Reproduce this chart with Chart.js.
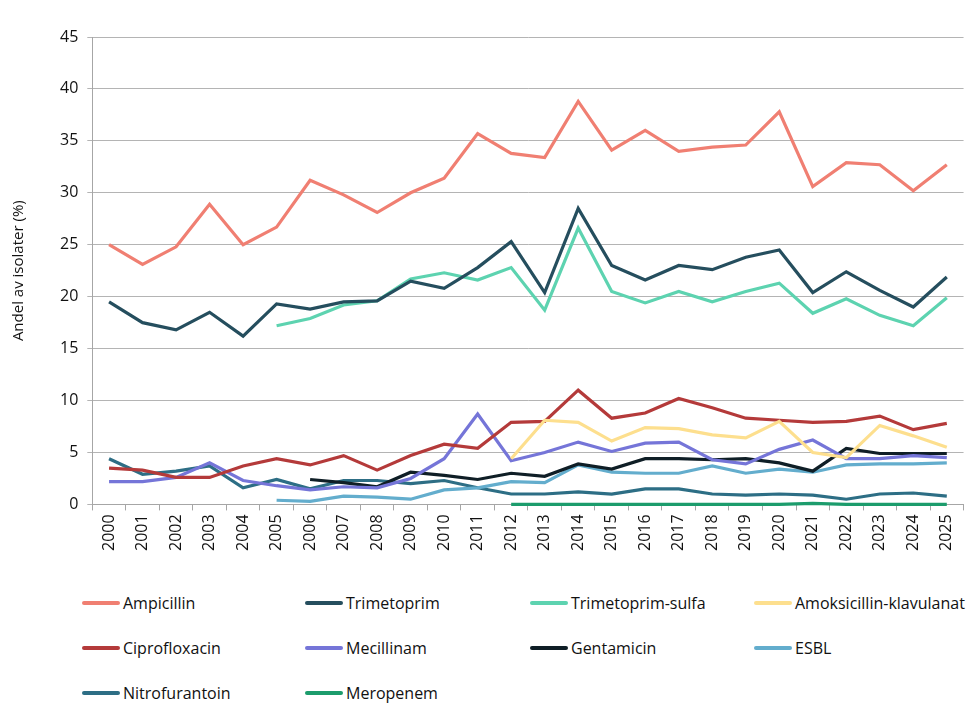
<!DOCTYPE html>
<html>
<head>
<meta charset="utf-8">
<script src="https://cdn.jsdelivr.net/npm/chart.js@4/dist/chart.umd.min.js"></script>
<style>
    html, body { margin: 0; padding: 0; background: #fff; }
    body { width: 970px; height: 724px; position: relative; overflow: hidden; font-family: 'Open Sans', 'Liberation Sans', sans-serif; }
    #chartBox { position: absolute; left: 0; top: 0; width: 970px; height: 555px; }
    #legend { position: absolute; left: 82px; top: 590px; width: 888px; display: grid; grid-template-columns: 223px 225px 224px 216px; row-gap: 19px; }
    .item { display: flex; align-items: center; height: 26px; font-size: 16px; color: #111; white-space: nowrap; }
    .swatch { width: 38px; height: 4px; margin-right: 3px; border-radius: 2px; }
</style>
</head>
<body>
<div id="chartBox"><canvas id="chart"></canvas></div>
<div id="legend"></div>
<script>
// Data
const years = ['2000','2001','2002','2003','2004','2005','2006','2007','2008','2009','2010','2011','2012',
    '2013','2014','2015','2016','2017','2018','2019','2020','2021','2022','2023','2024','2025'];

const ampicillin = [25.0, 23.1, 24.8, 28.9, 25.0, 26.7, 31.2, 29.8, 28.1, 30.0, 31.4, 35.7, 33.8,
    33.4, 38.8, 34.1, 36.0, 34.0, 34.4, 34.6, 37.8, 30.6, 32.9, 32.7, 30.2, 32.7];
const trimetoprim = [19.5, 17.5, 16.8, 18.5, 16.2, 19.3, 18.8, 19.5, 19.6, 21.5, 20.8, 22.8, 25.3,
    20.4, 28.5, 23.0, 21.6, 23.0, 22.6, 23.8, 24.5, 20.4, 22.4, 20.6, 19.0, 21.9];
const trimSulfa = [null, null, null, null, null, 17.2, 17.9, 19.2, 19.6, 21.7, 22.3, 21.6, 22.8,
    18.7, 26.6, 20.5, 19.4, 20.5, 19.5, 20.5, 21.3, 18.4, 19.8, 18.2, 17.2, 19.9];
const amoksKlav = [null, null, null, null, null, null, null, null, null, null, null, null, 4.4,
    8.1, 7.9, 6.1, 7.4, 7.3, 6.7, 6.4, 8.0, 5.0, 4.5, 7.6, 6.6, 5.5];
const ciprofloxacin = [3.5, 3.3, 2.6, 2.6, 3.7, 4.4, 3.8, 4.7, 3.3, 4.7, 5.8, 5.4, 7.9,
    8.0, 11.0, 8.3, 8.8, 10.2, 9.3, 8.3, 8.1, 7.9, 8.0, 8.5, 7.2, 7.8];
const mecillinam = [2.2, 2.2, 2.6, 4.0, 2.3, 1.8, 1.4, 1.7, 1.6, 2.5, 4.4, 8.7, 4.2,
    5.0, 6.0, 5.1, 5.9, 6.0, 4.3, 3.9, 5.3, 6.2, 4.4, 4.4, 4.7, 4.5];
const gentamicin = [null, null, null, null, null, null, 2.4, 2.1, 1.7, 3.1, 2.8, 2.4, 3.0,
    2.7, 3.9, 3.4, 4.4, 4.4, 4.3, 4.4, 4.0, 3.2, 5.4, 4.9, 4.9, 4.9];
const esbl = [null, null, null, null, null, 0.4, 0.3, 0.8, 0.7, 0.5, 1.4, 1.6, 2.2,
    2.1, 3.8, 3.1, 3.0, 3.0, 3.7, 3.0, 3.4, 3.1, 3.8, 3.9, 3.9, 4.0];
const nitrofurantoin = [4.4, 2.9, 3.2, 3.7, 1.6, 2.4, 1.5, 2.3, 2.3, 2.0, 2.3, 1.6, 1.0,
    1.0, 1.2, 1.0, 1.5, 1.5, 1.0, 0.9, 1.0, 0.9, 0.5, 1.0, 1.1, 0.8];
const meropenem = [null, null, null, null, null, null, null, null, null, null, null, null, 0.0,
    0.0, 0.0, 0.0, 0.0, 0.0, 0.0, 0.0, 0.0, 0.1, 0.0, 0.0, 0.0, 0.0];

const yTicks = [0, 5, 10, 15, 20, 25, 30, 35, 40, 45];

const series = [
    { label: 'Ampicillin', data: ampicillin, color: '#F07F72' },
    { label: 'Trimetoprim', data: trimetoprim, color: '#254E5E' },
    { label: 'Trimetoprim-sulfa', data: trimSulfa, color: '#5DD3B0' },
    { label: 'Amoksicillin-klavulanat', data: amoksKlav, color: '#FDDF8E' },
    { label: 'Ciprofloxacin', data: ciprofloxacin, color: '#B43A3A' },
    { label: 'Mecillinam', data: mecillinam, color: '#7575D8' },
    { label: 'Gentamicin', data: gentamicin, color: '#0F1E26' },
    { label: 'ESBL', data: esbl, color: '#63ADCD' },
    { label: 'Nitrofurantoin', data: nitrofurantoin, color: '#2D6E85' },
    { label: 'Meropenem', data: meropenem, color: '#1C9C6C' }
];

const fontFamily = "'Open Sans', 'Liberation Sans', sans-serif";

const chart = new Chart(document.getElementById('chart'), {
    type: 'line',
    data: {
        labels: years,
        datasets: series.map(s => ({
            label: s.label,
            data: s.data,
            borderColor: s.color,
            backgroundColor: s.color,
            borderWidth: 3.2,
            pointRadius: 0,
            tension: 0,
            spanGaps: false,
            clip: 6
        }))
    },
    options: {
        responsive: true,
        maintainAspectRatio: false,
        animation: false,
        layout: { padding: { left: 6, top: 37, right: 0, bottom: 0 } },
        plugins: {
            legend: { display: false },
            tooltip: { enabled: false }
        },
        scales: {
            x: {
                offset: true,
                grid: {
                    offset: true,
                    drawOnChartArea: false,
                    tickLength: 6,
                    color: '#a6a6a6'
                },
                border: { color: '#a6a6a6' },
                ticks: {
                    maxRotation: 90,
                    minRotation: 90,
                    autoSkip: false,
                    color: '#111',
                    padding: 4,
                    font: { family: fontFamily, size: 16 }
                }
            },
            y: {
                min: 0,
                max: 45,
                afterBuildTicks: axis => { axis.ticks = yTicks.map(v => ({ value: v })); },
                grid: { color: '#b4b4b4', tickLength: 5 },
                border: { color: '#a6a6a6' },
                ticks: {
                    color: '#111',
                    padding: 9,
                    font: { family: fontFamily, size: 16 }
                },
                title: {
                    display: true,
                    text: 'Andel av isolater (%)',
                    color: '#111',
                    padding: { top: 4, bottom: 23 },
                    font: { family: fontFamily, size: 15 }
                }
            }
        }
    }
});

// HTML legend built from the chart datasets (4 columns, like the original)
const legendEl = document.getElementById('legend');
chart.data.datasets.forEach(ds => {
    const item = document.createElement('div');
    item.className = 'item';
    item.innerHTML = `<span class="swatch" style="background:${ds.borderColor}"></span><span>${ds.label}</span>`;
    legendEl.appendChild(item);
});
</script>
</body>
</html>
